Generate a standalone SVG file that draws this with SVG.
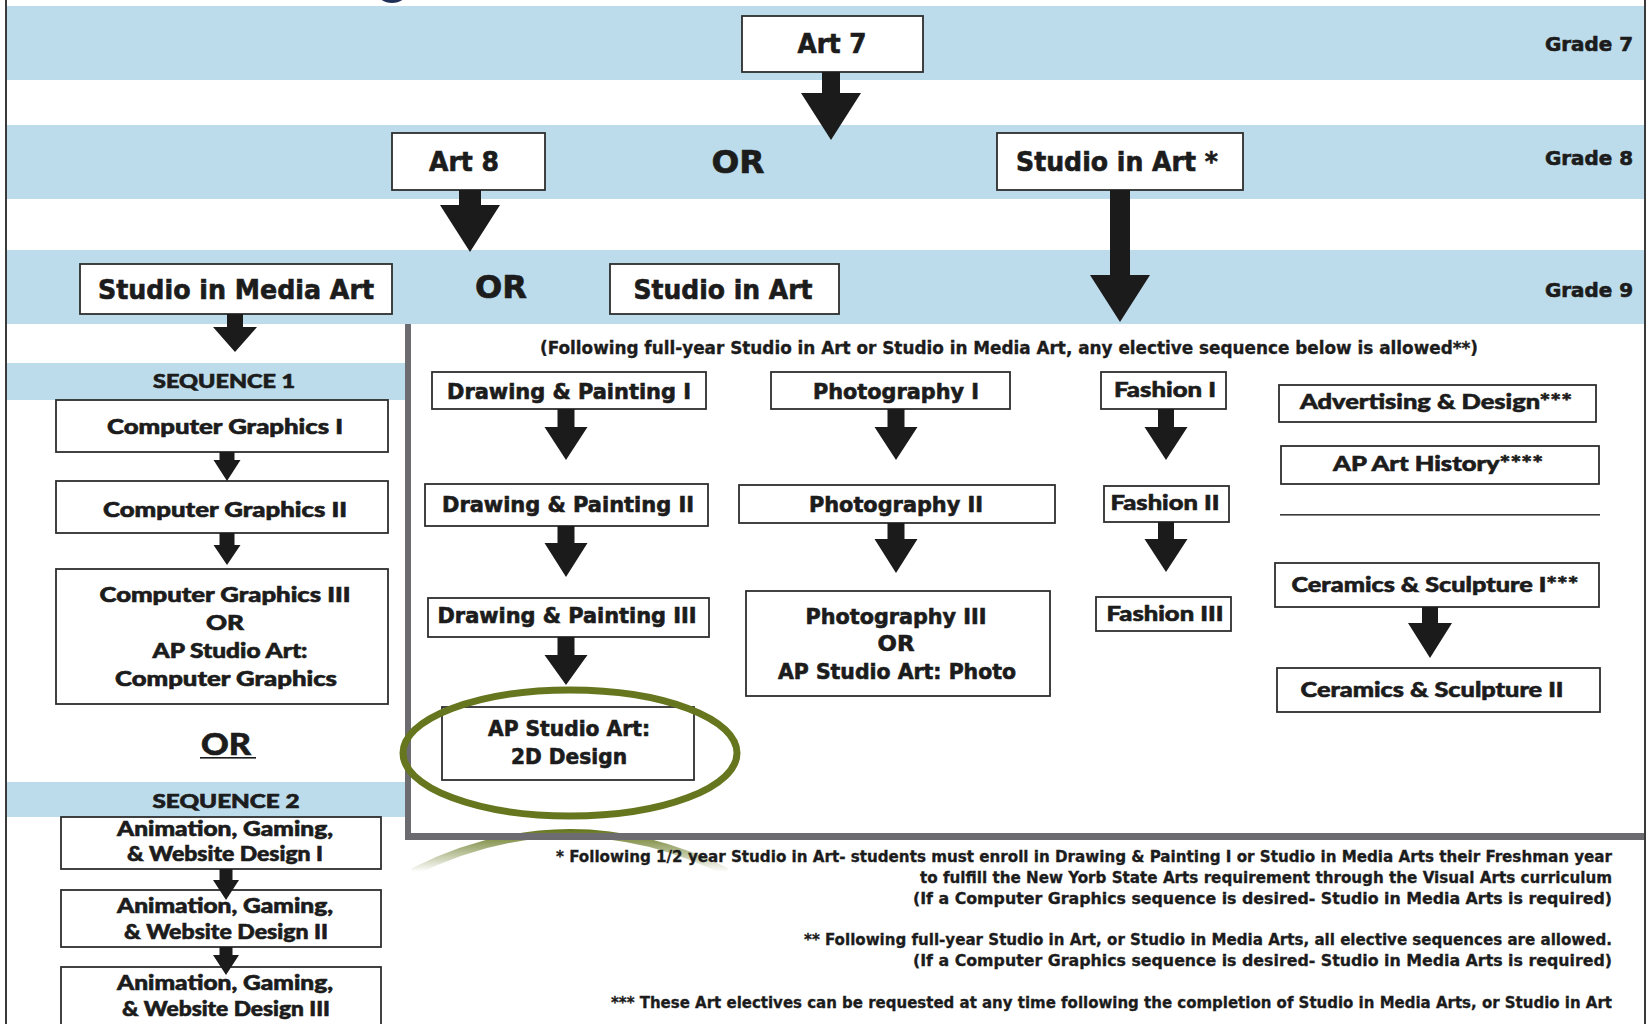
<svg xmlns="http://www.w3.org/2000/svg" width="1652" height="1024" viewBox="0 0 1652 1024">
<style>
.band{fill:#bddceb}
.box{fill:#fff;stroke:#2e2e2e;stroke-width:1.8}
.arr{fill:#1b1b1b}
text{fill:#1c1c1c}
.c{font-family:"Liberation Sans Narrow","DejaVu Sans Condensed","Liberation Sans",sans-serif;font-weight:700;stroke:#1c1c1c;stroke-width:0.6}
.g{font-family:"Lato","Open Sans","Liberation Sans",sans-serif;font-weight:900;stroke:#1c1c1c;stroke-width:0.6}
.f{font-family:"Liberation Sans Narrow","DejaVu Sans Condensed","Liberation Sans",sans-serif;font-weight:700;stroke:#1c1c1c;stroke-width:0.3}
.div{fill:#6b6b70}
</style>
<defs>
<linearGradient id="fade" gradientUnits="userSpaceOnUse" x1="0" y1="830" x2="0" y2="872">
<stop offset="0" stop-color="#65761f" stop-opacity="1"/>
<stop offset="1" stop-color="#65761f" stop-opacity="0"/>
</linearGradient>
</defs>
<rect x="0" y="0" width="1652" height="1024" fill="#fff"/>
<ellipse cx="392" cy="-8" rx="15" ry="11" fill="#1f2f58"/>
<!-- bands -->
<rect class="band" x="7" y="6" width="1637" height="74"/>
<rect class="band" x="7" y="125" width="1637" height="74"/>
<rect class="band" x="7" y="250" width="1637" height="74"/>
<rect class="band" x="7" y="363" width="398" height="37"/>
<rect class="band" x="7" y="782" width="398" height="35"/>
<!-- frame -->
<rect x="5" y="0" width="2" height="1024" fill="#3a3a3a"/>
<rect x="1644" y="0" width="2" height="1024" fill="#3a3a3a"/>
<!-- faded arc -->
<path d="M 413 872 Q 570 794 727 872" fill="none" stroke="url(#fade)" stroke-width="8"/>
<!-- dividers -->
<rect class="div" x="405" y="324" width="6" height="516"/>
<rect class="div" x="405" y="833" width="1239" height="7"/>
<rect x="1280" y="514" width="320" height="1.6" fill="#3a3a3a"/>
<!-- grade labels -->
<text class="c" x="1633" y="51" font-size="20" text-anchor="end" textLength="88" lengthAdjust="spacingAndGlyphs">Grade 7</text>
<text class="c" x="1633" y="165" font-size="20" text-anchor="end" textLength="88" lengthAdjust="spacingAndGlyphs">Grade 8</text>
<text class="c" x="1633" y="297" font-size="20" text-anchor="end" textLength="88" lengthAdjust="spacingAndGlyphs">Grade 9</text>
<text class="c" x="738" y="173" font-size="32" text-anchor="middle" textLength="53" lengthAdjust="spacingAndGlyphs">OR</text>
<text class="c" x="501" y="298" font-size="32" text-anchor="middle" textLength="52" lengthAdjust="spacingAndGlyphs">OR</text>
<text class="g" x="224" y="388" font-size="18" text-anchor="middle" textLength="142" lengthAdjust="spacingAndGlyphs">SEQUENCE 1</text>
<text class="g" x="226" y="808" font-size="18" text-anchor="middle" textLength="147" lengthAdjust="spacingAndGlyphs">SEQUENCE 2</text>
<text class="g" x="226" y="755" font-size="30" text-anchor="middle" textLength="50" lengthAdjust="spacingAndGlyphs">OR</text>
<rect x="200" y="757" width="56" height="1.6" fill="#1c1c1c"/>
<text class="f" x="1009" y="354" font-size="17" text-anchor="middle" textLength="938" lengthAdjust="spacingAndGlyphs">(Following full-year Studio in Art or Studio in Media Art, any elective sequence below is allowed**)</text>

<!-- nodes -->
<g id="art7"><rect class="box" x="742" y="16" width="181" height="56"/><text class="c" x="832" y="53" font-size="27" text-anchor="middle" textLength="69" lengthAdjust="spacingAndGlyphs">Art 7</text></g>
<g id="art8"><rect class="box" x="392" y="133" width="153" height="57"/><text class="c" x="464" y="171" font-size="27" text-anchor="middle" textLength="70" lengthAdjust="spacingAndGlyphs">Art 8</text></g>
<g id="studioArtStar"><rect class="box" x="997" y="133" width="246" height="57"/><text class="c" x="1117" y="171" font-size="27" text-anchor="middle" textLength="202" lengthAdjust="spacingAndGlyphs">Studio in Art *</text></g>
<g id="studioMediaArt"><rect class="box" x="80" y="264" width="312" height="50"/><text class="c" x="236" y="299" font-size="27" text-anchor="middle" textLength="276" lengthAdjust="spacingAndGlyphs">Studio in Media Art</text></g>
<g id="studioArt"><rect class="box" x="610" y="264" width="229" height="50"/><text class="c" x="723" y="299" font-size="27" text-anchor="middle" textLength="179" lengthAdjust="spacingAndGlyphs">Studio in Art</text></g>

<g id="cg1"><rect class="box" x="56" y="400" width="332" height="52"/><text class="g" x="225" y="434" font-size="20" text-anchor="middle" textLength="236" lengthAdjust="spacingAndGlyphs">Computer Graphics I</text></g>
<g id="cg2"><rect class="box" x="56" y="481" width="332" height="52"/><text class="g" x="225" y="517" font-size="20" text-anchor="middle" textLength="244" lengthAdjust="spacingAndGlyphs">Computer Graphics II</text></g>
<g id="cg3"><rect class="box" x="56" y="569" width="332" height="135"/>
<text class="g" x="225" y="602" font-size="20" text-anchor="middle" textLength="251" lengthAdjust="spacingAndGlyphs">Computer Graphics III</text>
<text class="g" x="225" y="630" font-size="20" text-anchor="middle" textLength="38" lengthAdjust="spacingAndGlyphs">OR</text>
<text class="g" x="230" y="658" font-size="20" text-anchor="middle" textLength="155" lengthAdjust="spacingAndGlyphs">AP Studio Art:</text>
<text class="g" x="226" y="686" font-size="20" text-anchor="middle" textLength="222" lengthAdjust="spacingAndGlyphs">Computer Graphics</text></g>
<g id="agw1"><rect class="box" x="61" y="817" width="320" height="52"/>
<text class="g" x="225" y="836" font-size="20" text-anchor="middle" textLength="216" lengthAdjust="spacingAndGlyphs">Animation, Gaming,</text>
<text class="g" x="225" y="861" font-size="20" text-anchor="middle" textLength="196" lengthAdjust="spacingAndGlyphs">&amp; Website Design I</text></g>
<g id="agw2"><rect class="box" x="61" y="890" width="320" height="57"/>
<text class="g" x="225" y="913" font-size="20" text-anchor="middle" textLength="216" lengthAdjust="spacingAndGlyphs">Animation, Gaming,</text>
<text class="g" x="226" y="939" font-size="20" text-anchor="middle" textLength="204" lengthAdjust="spacingAndGlyphs">&amp; Website Design II</text></g>
<g id="agw3"><rect class="box" x="61" y="967" width="320" height="62"/>
<text class="g" x="225" y="990" font-size="20" text-anchor="middle" textLength="216" lengthAdjust="spacingAndGlyphs">Animation, Gaming,</text>
<text class="g" x="226" y="1016" font-size="20" text-anchor="middle" textLength="208" lengthAdjust="spacingAndGlyphs">&amp; Website Design III</text></g>

<g id="dp1"><rect class="box" x="432" y="372" width="274" height="37"/><text class="c" x="569" y="399" font-size="22" text-anchor="middle" textLength="244" lengthAdjust="spacingAndGlyphs">Drawing &amp; Painting I</text></g>
<g id="dp2"><rect class="box" x="425" y="484" width="283" height="42"/><text class="c" x="568" y="512" font-size="22" text-anchor="middle" textLength="252" lengthAdjust="spacingAndGlyphs">Drawing &amp; Painting II</text></g>
<g id="dp3"><rect class="box" x="428" y="598" width="281" height="39"/><text class="c" x="567" y="623" font-size="22" text-anchor="middle" textLength="259" lengthAdjust="spacingAndGlyphs">Drawing &amp; Painting III</text></g>
<g id="ap2d"><rect class="box" x="442" y="707" width="252" height="73"/>
<text class="c" x="569" y="736" font-size="22" text-anchor="middle" textLength="162" lengthAdjust="spacingAndGlyphs">AP Studio Art:</text>
<text class="c" x="569" y="764" font-size="22" text-anchor="middle" textLength="116" lengthAdjust="spacingAndGlyphs">2D Design</text></g>
<g id="ph1"><rect class="box" x="771" y="372" width="239" height="37"/><text class="c" x="896" y="399" font-size="22" text-anchor="middle" textLength="166" lengthAdjust="spacingAndGlyphs">Photography I</text></g>
<g id="ph2"><rect class="box" x="739" y="485" width="316" height="38"/><text class="c" x="896" y="512" font-size="22" text-anchor="middle" textLength="174" lengthAdjust="spacingAndGlyphs">Photography II</text></g>
<g id="ph3"><rect class="box" x="746" y="591" width="304" height="105"/>
<text class="c" x="896" y="624" font-size="22" text-anchor="middle" textLength="181" lengthAdjust="spacingAndGlyphs">Photography III</text>
<text class="c" x="896" y="651" font-size="22" text-anchor="middle" textLength="37" lengthAdjust="spacingAndGlyphs">OR</text>
<text class="c" x="897" y="679" font-size="22" text-anchor="middle" textLength="238" lengthAdjust="spacingAndGlyphs">AP Studio Art: Photo</text></g>
<g id="fa1"><rect class="box" x="1101" y="372" width="125" height="37"/><text class="g" x="1165" y="397" font-size="21" text-anchor="middle" textLength="102" lengthAdjust="spacingAndGlyphs">Fashion I</text></g>
<g id="fa2"><rect class="box" x="1104" y="486" width="125" height="36"/><text class="g" x="1165" y="510" font-size="21" text-anchor="middle" textLength="109" lengthAdjust="spacingAndGlyphs">Fashion II</text></g>
<g id="fa3"><rect class="box" x="1096" y="597" width="135" height="34"/><text class="g" x="1165" y="621" font-size="21" text-anchor="middle" textLength="117" lengthAdjust="spacingAndGlyphs">Fashion III</text></g>
<g id="adv"><rect class="box" x="1279" y="385" width="317" height="37"/><text class="g" x="1436" y="409" font-size="21" text-anchor="middle" textLength="272" lengthAdjust="spacingAndGlyphs">Advertising &amp; Design***</text></g>
<g id="aph"><rect class="box" x="1281" y="446" width="318" height="38"/><text class="g" x="1438" y="471" font-size="21" text-anchor="middle" textLength="210" lengthAdjust="spacingAndGlyphs">AP Art History****</text></g>
<g id="cer1"><rect class="box" x="1275" y="563" width="324" height="44"/><text class="g" x="1435" y="592" font-size="21" text-anchor="middle" textLength="287" lengthAdjust="spacingAndGlyphs">Ceramics &amp; Sculpture I***</text></g>
<g id="cer2"><rect class="box" x="1277" y="668" width="323" height="44"/><text class="g" x="1432" y="697" font-size="21" text-anchor="middle" textLength="263" lengthAdjust="spacingAndGlyphs">Ceramics &amp; Sculpture II</text></g>

<!-- connectors -->
<g id="connectors">
<polygon class="arr" points="822,72 840,72 840,93 861,93 831,140 801,93 822,93"/>
<polygon class="arr" points="459,190 481,190 481,205 500,205 470,252 440,205 459,205"/>
<polygon class="arr" points="1110,190 1130,190 1130,275 1150,275 1120,322 1090,275 1110,275"/>
<polygon class="arr" points="227,314 243,314 243,327 257,327 235,352 213,327 227,327"/>
<polygon class="arr" points="219.5,452 234.5,452 234.5,460 240.5,460 227,481 213.5,460 219.5,460"/>
<polygon class="arr" points="219.5,533 234.5,533 234.5,545 240.5,545 227,565 213.5,545 219.5,545"/>
<polygon class="arr" points="219.5,869 232.5,869 232.5,880 239,880 226,900 213,880 219.5,880"/>
<polygon class="arr" points="219.5,947 232.5,947 232.5,955 239,955 226,975 213,955 219.5,955"/>
<polygon class="arr" points="557.5,409 574.5,409 574.5,427 587.5,427 566,460 544.5,427 557.5,427"/>
<polygon class="arr" points="557.5,526 574.5,526 574.5,543 587.5,543 566,577 544.5,543 557.5,543"/>
<polygon class="arr" points="557.5,637 574.5,637 574.5,655 587.5,655 566,685 544.5,655 557.5,655"/>
<polygon class="arr" points="887.5,409 904.5,409 904.5,427 917.5,427 896,460 874.5,427 887.5,427"/>
<polygon class="arr" points="887.5,523 904.5,523 904.5,539 917.5,539 896,573 874.5,539 887.5,539"/>
<polygon class="arr" points="1158,409 1174,409 1174,427 1187.5,427 1166,460 1144.5,427 1158,427"/>
<polygon class="arr" points="1158,522 1174,522 1174,539 1187.5,539 1166,572 1144.5,539 1158,539"/>
<polygon class="arr" points="1422,607 1438,607 1438,623 1452,623 1430,658 1408,623 1422,623"/>
</g>

<!-- highlight ellipse -->
<ellipse cx="570" cy="753" rx="167" ry="63" fill="none" stroke="#65761f" stroke-width="7"/>

<!-- footnotes -->
<g class="f" font-size="16" text-anchor="end">
<text x="1612" y="862" textLength="1056" lengthAdjust="spacingAndGlyphs">* Following 1/2 year Studio in Art- students must enroll in Drawing &amp; Painting I or Studio in Media Arts their Freshman year</text>
<text x="1612" y="883" textLength="692" lengthAdjust="spacingAndGlyphs">to fulfill the New Yorb State Arts requirement through the Visual Arts curriculum</text>
<text x="1612" y="904" textLength="699" lengthAdjust="spacingAndGlyphs">(If a Computer Graphics sequence is desired- Studio in Media Arts is required)</text>
<text x="1612" y="945" textLength="808" lengthAdjust="spacingAndGlyphs">** Following full-year Studio in Art, or Studio in Media Arts, all elective sequences are allowed.</text>
<text x="1612" y="966" textLength="699" lengthAdjust="spacingAndGlyphs">(If a Computer Graphics sequence is desired- Studio in Media Arts is required)</text>
<text x="1612" y="1008" textLength="1001" lengthAdjust="spacingAndGlyphs">*** These Art electives can be requested at any time following the completion of Studio in Media Arts, or Studio in Art</text>
</g>
</svg>
